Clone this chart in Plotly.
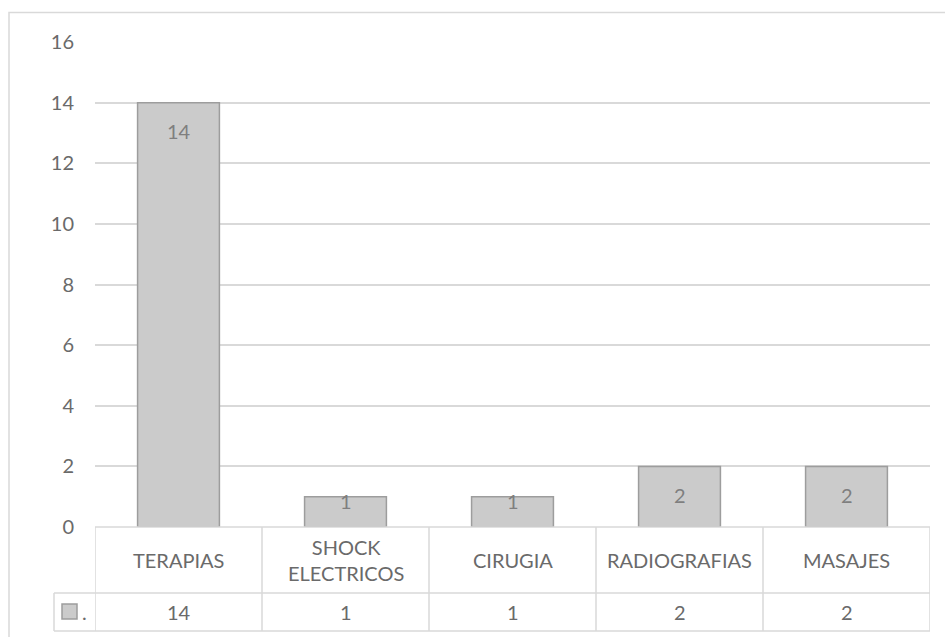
import plotly.graph_objects as go

# Chart data
categories = ["TERAPIAS", "SHOCK ELECTRICOS", "CIRUGIA", "RADIOGRAFIAS", "MASAJES"]
values = [14, 1, 1, 2, 2]
series_name = "."
y_ticks = [0, 2, 4, 6, 8, 10, 12, 14, 16]

W, H = 945, 637
FONT = "Lato"
TXT = "#6a6a6a"
LBL = "#7f7f7f"
LINE = "#d9d9d9"
FS = 20


def py(y):
    return (H - y) / H


def px(x):
    return x / W


y_bottom, y_top = 527, 42
header_bottom, table_bottom = 593, 631
key_left = 54
y_max = 16
px_per_unit = (y_bottom - y_top) / y_max

fig = go.Figure()
fig.add_trace(go.Bar(
    x=categories,
    y=values,
    name=series_name,
    width=0.49,
    marker=dict(color="#cbcbcb", line=dict(color="#9d9d9d", width=1.5)),
    showlegend=False,
    hoverinfo="x+y",
))

shapes = []
# outer chart frame
shapes.append(dict(type="rect", xref="paper", yref="paper",
                   x0=px(9), x1=1.05, y0=-0.05, y1=py(12.5),
                   line=dict(color=LINE, width=1.5), fillcolor="rgba(0,0,0,0)", layer="below"))
# data table: horizontal rules
for yy, x_start in [(y_bottom, 95), (header_bottom, key_left), (table_bottom, key_left)]:
    shapes.append(dict(type="line", xref="paper", yref="paper",
                       x0=px(x_start), x1=px(930),
                       y0=py(yy), y1=py(yy), line=dict(color=LINE, width=1.5)))
# data table: vertical rules between categories
for i in range(len(categories) + 1):
    shapes.append(dict(type="line", xref="x", yref="paper",
                       x0=i - 0.5, x1=i - 0.5, y0=py(y_bottom), y1=py(table_bottom),
                       line=dict(color=LINE, width=1.5)))
# legend-key cell left edge
shapes.append(dict(type="line", xref="paper", yref="paper",
                   x0=px(key_left), x1=px(key_left), y0=py(header_bottom), y1=py(table_bottom),
                   line=dict(color=LINE, width=1.5)))
# legend key swatch
shapes.append(dict(type="rect", xref="paper", yref="paper",
                   x0=px(62), x1=px(77), y0=py(619), y1=py(604),
                   fillcolor="#cbcbcb", line=dict(color="#9d9d9d", width=1.5)))

annotations = []
for cat, v in zip(categories, values):
    # value label inside the top of the bar; short bars keep it near the top edge
    shift = -28.5 if v * px_per_unit > 45 else -4.5
    annotations.append(dict(x=cat, xref="x", y=v, yref="y", yshift=shift, text=str(v),
                            showarrow=False, font=dict(family=FONT, size=FS, color=LBL),
                            xanchor="center", yanchor="middle"))
    label = "<br>".join(cat.split(" "))
    annotations.append(dict(x=cat, xref="x", y=py(560), yref="paper", text=label,
                            showarrow=False, font=dict(family=FONT, size=FS, color=TXT),
                            xanchor="center", yanchor="middle"))
    annotations.append(dict(x=cat, xref="x", y=py(612), yref="paper", text=str(v),
                            showarrow=False, font=dict(family=FONT, size=FS, color=TXT),
                            xanchor="center", yanchor="middle"))
annotations.append(dict(x=px(80), xref="paper", y=py(612), yref="paper", text=series_name,
                        showarrow=False, font=dict(family=FONT, size=FS, color=TXT),
                        xanchor="left", yanchor="middle"))

fig.update_layout(
    width=W, height=H,
    margin=dict(l=0, r=0, t=0, b=0),
    paper_bgcolor="white", plot_bgcolor="white",
    shapes=shapes,
    annotations=annotations,
    xaxis=dict(domain=[px(95), px(930)], range=[-0.5, len(categories) - 0.5],
               showticklabels=False, showgrid=False, zeroline=False, showline=False,
               ticks="", automargin=False),
    yaxis=dict(domain=[py(y_bottom), py(y_top)], range=[0, y_max], tickvals=y_ticks,
               showgrid=True, gridcolor=LINE, gridwidth=1.5, zeroline=False, showline=False,
               ticks="", ticklabelstandoff=20, automargin=False,
               tickfont=dict(family=FONT, size=FS, color=TXT)),
)

fig.write_html("out.html")
